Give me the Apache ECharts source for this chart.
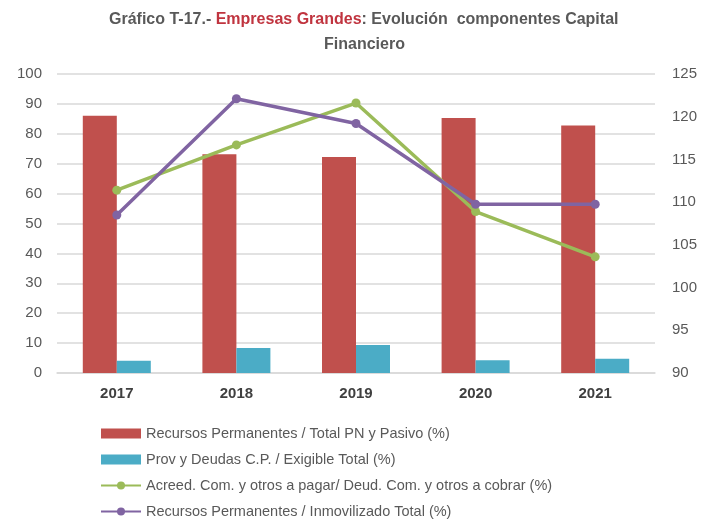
<!DOCTYPE html>
<html><head><meta charset="utf-8">
<script src="https://cdn.jsdelivr.net/npm/echarts@6/dist/echarts.min.js"></script>
<style>html,body{margin:0;padding:0;background:#fff}#c{width:702px;height:519px}</style>
</head><body><div id="c"></div>
<script>
const categories = ['2017','2018','2019','2020','2021'];
const recursosPN = [86, 73.2, 72.2, 85.3, 82.8];
const provDeudas = [4.1, 8.4, 9.4, 4.3, 4.8];
const acreedDeud = [111.4, 116.7, 121.6, 108.9, 103.6];
const recursosInmov = [108.5, 122.1, 119.2, 109.75, 109.75];
const leftTicks = {min: 0, max: 100, interval: 10};
const rightTicks = {min: 90, max: 125, interval: 5};
const names = [
  'Recursos Permanentes / Total PN y Pasivo (%)',
  'Prov y Deudas C.P. / Exigible Total (%)',
  'Acreed. Com. y otros a pagar/ Deud. Com. y otros a cobrar (%)',
  'Recursos Permanentes / Inmovilizado Total (%)'
];
const font = 'Liberation Sans';
const chart = echarts.init(document.getElementById('c'));
chart.setOption({
  animation: false,
  title: [{
    text: '{a|Gráfico T-17.- }{r|Empresas Grandes}{a|: Evolución  componentes Capital}',
    left: 104, top: 7,
    textStyle: { rich: {
      a: {fontFamily: font, fontWeight: 'bold', fontSize: 16, color: '#595959'},
      r: {fontFamily: font, fontWeight: 'bold', fontSize: 16, color: '#C0343F'}
    }}
  }, {
    text: 'Financiero', left: 319, top: 32,
    textStyle: {fontFamily: font, fontWeight: 'bold', fontSize: 16, color: '#595959'}
  }],
  grid: {left: 57, right: 47, top: 74, bottom: 146, containLabel: false},
  legend: {
    orient: 'vertical', left: 100, top: 426, height: 100, itemGap: 11, padding: 0,
    itemWidth: 40, itemHeight: 10,
    textStyle: {fontFamily: font, fontSize: 14.5, color: '#595959'},
    data: [
      {name: names[0], icon: 'rect'},
      {name: names[1], icon: 'rect'},
      {name: names[2]},
      {name: names[3]}
    ]
  },
  xAxis: {
    type: 'category', data: categories,
    axisLine: {show: true, lineStyle: {color: '#d9d9d9', width: 1.5}},
    axisTick: {show: false},
    axisLabel: {fontFamily: font, fontWeight: 'bold', fontSize: 15, color: '#404040', margin: 13}
  },
  yAxis: [{
    type: 'value', min: leftTicks.min, max: leftTicks.max, interval: leftTicks.interval,
    axisLine: {show: false}, axisTick: {show: false},
    axisLabel: {fontFamily: font, fontSize: 15, color: '#595959', margin: 15},
    splitLine: {lineStyle: {color: '#d9d9d9', width: 1.5}}
  }, {
    type: 'value', min: rightTicks.min, max: rightTicks.max, interval: rightTicks.interval,
    axisLine: {show: false}, axisTick: {show: false},
    axisLabel: {fontFamily: font, fontSize: 15, color: '#595959', margin: 17},
    splitLine: {show: false}
  }],
  series: [{
    name: names[0], type: 'bar', data: recursosPN, barWidth: 34, barGap: '0%',
    itemStyle: {color: '#C0504D'}
  }, {
    name: names[1], type: 'bar', data: provDeudas, barWidth: 34, barGap: '0%',
    itemStyle: {color: '#4BACC6'}
  }, {
    name: names[2], type: 'line', yAxisIndex: 1, data: acreedDeud,
    symbol: 'circle', symbolSize: 9,
    lineStyle: {color: '#9BBB59', width: 3.5}, itemStyle: {color: '#9BBB59'}
  }, {
    name: names[3], type: 'line', yAxisIndex: 1, data: recursosInmov,
    symbol: 'circle', symbolSize: 9,
    lineStyle: {color: '#8064A2', width: 3.5}, itemStyle: {color: '#8064A2'}
  }]
});
</script></body></html>
